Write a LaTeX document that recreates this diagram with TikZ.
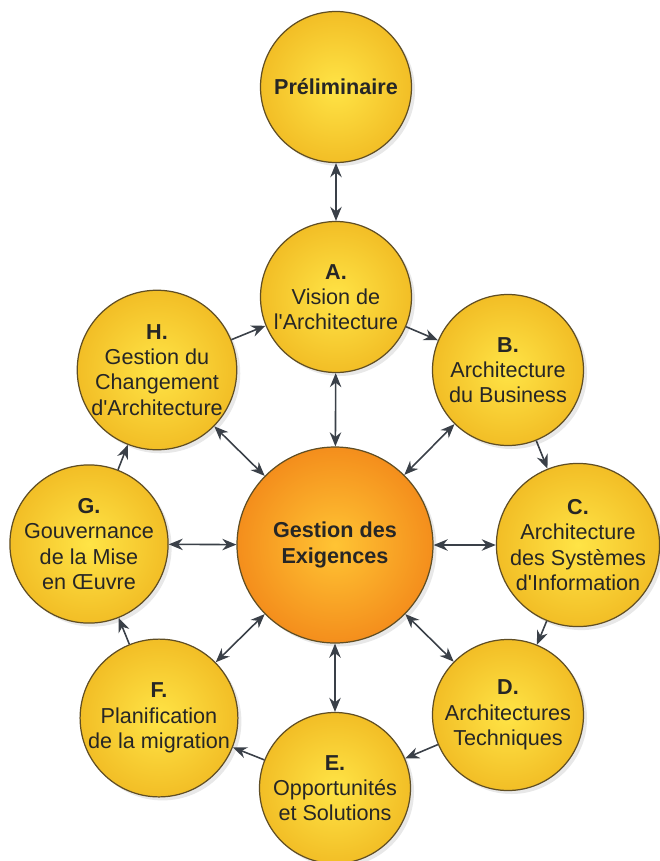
\documentclass[tikz,border=0pt]{standalone}
\usepackage{fontspec}
\setmainfont{Liberation Sans}
\usetikzlibrary{arrows.meta,shadows}

\definecolor{phase_inner}{RGB}{255,228,70}
\definecolor{phase_outer}{RGB}{242,190,38}
\definecolor{centre_inner}{RGB}{255,196,52}
\definecolor{centre_outer}{RGB}{244,142,28}
\definecolor{rim}{RGB}{96,78,36}
\definecolor{link}{RGB}{58,64,72}

\tikzset{
  phase/.style={circle, draw=rim, line width=0.7pt, shading=radial, inner color=phase_inner, outer color=phase_outer,
    minimum size=3.02cm, inner sep=0pt, align=center, text=black!85,
    drop shadow={shadow xshift=2pt, shadow yshift=-2pt, opacity=0.18}},
  centre/.style={phase, inner color=centre_inner, outer color=centre_outer, minimum size=3.92cm},
  link/.style={draw=link, line width=0.9pt, arrows={-Stealth[length=8pt,width=6.5pt]}},
  both/.style={link, arrows={Stealth[length=8pt,width=6.5pt]-Stealth[length=8pt,width=6.5pt]}}
}

\begin{document}
\begin{tikzpicture}[font=\fontsize{12.3}{14.4}\selectfont]
\useasboundingbox (0,0) rectangle (13.18,-17.22);
\node[phase] (preliminaire) at (6.72, -1.74) {\textbf{Préliminaire}};
\node[phase] (vision) at (6.72, -5.94) {\textbf{A.}\\Vision de\\l\textquotesingle Architecture};
\node[phase] (business) at (10.16, -7.40) {\textbf{B.}\\Architecture\\du Business};
\node[phase] (systemes) at (11.56, -10.90) {\textbf{C.}\\Architecture\\des Systèmes\\d\textquotesingle Information};
\node[phase] (techniques) at (10.16, -14.30) {\textbf{D.}\\Architectures\\Techniques};
\node[phase] (opportunites) at (6.70, -15.76) {\textbf{E.}\\Opportunités\\et Solutions};
\node[phase] (migration) at (3.18, -14.36) {\textbf{F.}\\Planification\\de la migration};
\node[phase] (gouvernance) at (1.78, -10.88) {\textbf{G.}\\Gouvernance\\de la Mise\\en Œuvre};
\node[phase] (changement) at (3.14, -7.40) {\textbf{H.}\\Gestion du\\Changement\\d\textquotesingle Architecture};
\node[centre] (exigences) at (6.70, -10.90) {\textbf{Gestion des}\\\textbf{Exigences}};
\draw[both] (preliminaire) -- (vision);
\draw[link] (vision) -- (business);
\draw[link] (business) -- (systemes);
\draw[link] (systemes) -- (techniques);
\draw[link] (techniques) -- (opportunites);
\draw[link] (opportunites) -- (migration);
\draw[link] (migration) -- (gouvernance);
\draw[link] (gouvernance) -- (changement);
\draw[link] (changement) -- (vision);
\draw[both] (exigences) -- (vision);
\draw[both] (exigences) -- (business);
\draw[both] (exigences) -- (systemes);
\draw[both] (exigences) -- (techniques);
\draw[both] (exigences) -- (opportunites);
\draw[both] (exigences) -- (migration);
\draw[both] (exigences) -- (gouvernance);
\draw[both] (exigences) -- (changement);
\end{tikzpicture}
\end{document}
